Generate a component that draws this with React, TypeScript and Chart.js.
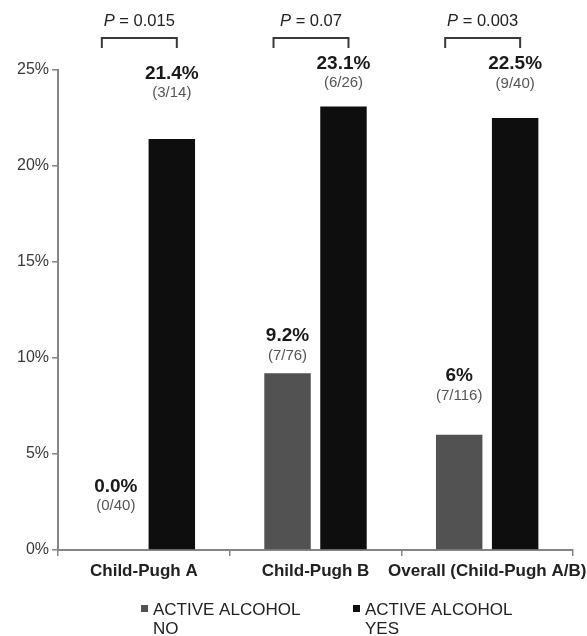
import React, { useEffect, useRef } from "react";
import { Chart, registerables } from "chart.js";

Chart.register(...registerables);

const FONT = "'Liberation Sans', Arial, sans-serif";

const categories = ["Child-Pugh A", "Child-Pugh B", "Overall (Child-Pugh A/B)"];
const noValues = [0, 9.2, 6];
const yesValues = [21.4, 23.1, 22.5];
const noLabels = ["0.0%", "9.2%", "6%"];
const noCounts = ["(0/40)", "(7/76)", "(7/116)"];
const yesLabels = ["21.4%", "23.1%", "22.5%"];
const yesCounts = ["(3/14)", "(6/26)", "(9/40)"];
// label anchors, in axis units (%)
const noLabelAt = [3.3, 11.15, 9.05];
const yesLabelAt = [24.8, 25.35, 25.3];
const pValues = ["0.015", "0.07", "0.003"];
const legendLines = [
  ["ACTIVE ALCOHOL", "NO"],
  ["ACTIVE ALCOHOL", "YES"],
];
const seriesColors = ["#525252", "#0e0e0e"];

const annotPlugin = {
  id: "annot",
  afterDatasetsDraw(chart: any) {
    const ctx = chart.ctx as CanvasRenderingContext2D;
    const ys = chart.scales.y;
    const m0 = chart.getDatasetMeta(0);
    const m1 = chart.getDatasetMeta(1);
    ctx.save();
    ctx.textAlign = "center";
    ctx.textBaseline = "middle";
    const drawPair = (meta: any, mains: string[], subs: string[], anchors: number[]) => {
      meta.data.forEach((bar: any, i: number) => {
        const cy = ys.getPixelForValue(anchors[i]);
        ctx.fillStyle = "#1a1a1a";
        ctx.font = `bold 19px ${FONT}`;
        ctx.fillText(mains[i], bar.x, cy);
        ctx.fillStyle = "#555";
        ctx.font = `15px ${FONT}`;
        ctx.fillText(subs[i], bar.x, cy + 19.5);
      });
    };
    drawPair(m0, noLabels, noCounts, noLabelAt);
    drawPair(m1, yesLabels, yesCounts, yesLabelAt);

    // brackets with P values
    m0.data.forEach((bar: any, i: number) => {
      const l = bar.x - 14;
      const r = m1.data[i].x + 5;
      ctx.strokeStyle = "#3a3a3a";
      ctx.lineWidth = 2;
      ctx.beginPath();
      ctx.moveTo(l, 48);
      ctx.lineTo(l, 38);
      ctx.lineTo(r, 38);
      ctx.lineTo(r, 48);
      ctx.stroke();
      const cx = (l + r) / 2;
      ctx.font = `italic 16.5px ${FONT}`;
      const wP = ctx.measureText("P").width;
      const rest = " = " + pValues[i];
      ctx.font = `16.5px ${FONT}`;
      const wR = ctx.measureText(rest).width;
      const x0 = cx - (wP + wR) / 2;
      ctx.textAlign = "left";
      ctx.fillStyle = "#222";
      ctx.font = `italic 16.5px ${FONT}`;
      ctx.fillText("P", x0, 21);
      ctx.font = `16.5px ${FONT}`;
      ctx.fillText(rest, x0 + wP, 21);
      ctx.textAlign = "center";
    });

    // legend
    ctx.textAlign = "left";
    legendLines.forEach((lines, i) => {
      const x = 141 + i * 212;
      ctx.fillStyle = seriesColors[i];
      ctx.fillRect(x, 605, 7, 7);
      ctx.fillStyle = "#222";
      ctx.font = `17px ${FONT}`;
      lines.forEach((t, k) => ctx.fillText(t, x + 12, 610 + k * 19));
    });
    ctx.restore();
  },
};

export default function App() {
  const ref = useRef<HTMLCanvasElement | null>(null);
  useEffect(() => {
    if (!ref.current) return;
    const chart = new Chart(ref.current, {
      type: "bar",
      data: {
        labels: categories,
        datasets: [
          {
            label: legendLines[0].join(" "),
            data: noValues,
            backgroundColor: seriesColors[0],
            categoryPercentage: 0.652,
            barPercentage: 0.83,
          },
          {
            label: legendLines[1].join(" "),
            data: yesValues,
            backgroundColor: seriesColors[1],
            categoryPercentage: 0.652,
            barPercentage: 0.83,
          },
        ],
      },
      options: {
        animation: false,
        responsive: false,
        devicePixelRatio: 1,
        layout: { padding: { top: 70, right: 14, bottom: 46, left: 0 } },
        plugins: {
          legend: { display: false },
          tooltip: { enabled: false },
        },
        scales: {
          x: {
            grid: {
              display: true,
              drawOnChartArea: false,
              drawTicks: true,
              tickLength: 6,
              color: "#858585",
              lineWidth: 1.5,
            },
            border: { display: true, color: "#858585", width: 2 },
            ticks: {
              padding: 5,
              color: "#222",
              font: { family: FONT, size: 17, weight: "bold" },
              maxRotation: 0,
              autoSkip: false,
            },
            afterFit(scale: any) {
              scale.height = 40;
              scale.paddingLeft = 0;
              scale.paddingRight = 0;
            },
          },
          y: {
            min: 0,
            max: 25,
            grid: {
              display: true,
              drawOnChartArea: false,
              drawTicks: true,
              tickLength: 6,
              color: "#858585",
              lineWidth: 1.5,
            },
            border: { display: true, color: "#858585", width: 2 },
            ticks: {
              stepSize: 5,
              padding: 3,
              color: "#3a3a3a",
              font: { family: FONT, size: 16 },
              callback: (v: any) => v + "%",
            },
            afterFit(scale: any) {
              scale.width = 58;
            },
          },
        },
      },
      plugins: [annotPlugin],
    });
    return () => chart.destroy();
  }, []);
  return (
    <div style={{ position: "fixed", left: 0, top: 0, width: 587, height: 636, background: "#fff" }}>
      <canvas ref={ref} width={587} height={636} />
    </div>
  );
}
